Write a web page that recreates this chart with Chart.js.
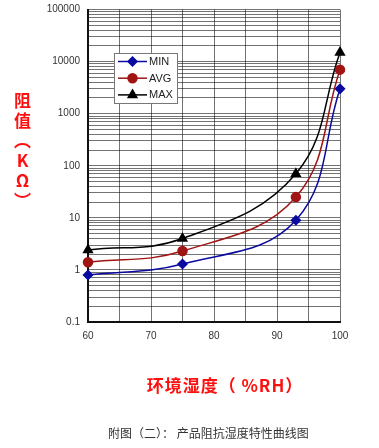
<!DOCTYPE html>
<html><head><meta charset="utf-8">
<script src="https://cdn.jsdelivr.net/npm/chart.js@4/dist/chart.umd.min.js"></script>
<style>
html,body{margin:0;padding:0;background:#fff;}
#wrap{position:relative;width:379px;height:448px;overflow:hidden;}
#c{position:absolute;left:0;top:0;}
#ytitle{position:absolute;left:12px;top:92px;writing-mode:vertical-rl;text-orientation:upright;color:#ff1010;font-family:"Noto Sans CJK SC";font-weight:bold;font-size:17px;line-height:20px;letter-spacing:3px;}
#xtitle{position:absolute;left:4px;width:442px;top:372px;text-align:center;color:#ff1010;font-family:"Noto Sans CJK SC";font-weight:bold;font-size:17px;letter-spacing:1px;white-space:pre;}
#caption{position:absolute;left:108px;top:424px;color:#333;font-family:"Noto Sans CJK SC";font-size:12px;white-space:pre;}
</style></head>
<body>
<div id="wrap">
<canvas id="c" width="379" height="448"></canvas>
<div id="ytitle">阻值（KΩ）</div>
<div id="xtitle">环境湿度（ %RH）</div>
<div id="caption">附图（二）： 产品阻抗湿度特性曲线图</div>
</div>
<script>
const humidity = [60, 75, 93, 100];
const minValues = [0.8, 1.3, 9, 3000];
const avgValues = [1.4, 2.3, 25, 7000];
const maxValues = [2.4, 4, 70, 15000];
const seriesNames = ['MIN', 'AVG', 'MAX'];
const yTickLabels = [0.1, 1, 10, 100, 1000, 10000, 100000];
const xTickLabels = [60, 70, 80, 90, 100];

const toPts = vals => humidity.map((h, i) => ({x: h, y: vals[i]}));

const legendPlugin = {
  id: 'boxLegend',
  afterDraw(chart) {
    const ctx = chart.ctx;
    ctx.save();
    const bx = 114, by = 53, bw = 63, bh = 50;
    ctx.fillStyle = '#fff';
    ctx.fillRect(bx, by, bw, bh);
    ctx.strokeStyle = '#777';
    ctx.lineWidth = 1;
    ctx.strokeRect(bx + 0.5, by + 0.5, bw, bh);
    chart.data.datasets.forEach((ds, i) => {
      const y = 61.5 + i * 16.7;
      ctx.strokeStyle = ds.borderColor;
      ctx.lineWidth = 1.5;
      ctx.beginPath();
      ctx.moveTo(118, y);
      ctx.lineTo(147, y);
      ctx.stroke();
      ctx.fillStyle = ds.backgroundColor;
      ctx.strokeStyle = ds.borderColor;
      Chart.helpers.drawPoint(ctx, {pointStyle: ds.pointStyle, radius: ds.pointRadius, rotation: 0, borderWidth: 1}, 132.5, y);
      ctx.fillStyle = '#222';
      ctx.font = '11px "Liberation Sans", Arial';
      ctx.textBaseline = 'middle';
      ctx.textAlign = 'left';
      ctx.fillText(ds.label, 149, y + 0.5);
    });
    ctx.restore();
  }
};

const mk = (label, vals, color, style, r) => ({
  label, data: toPts(vals), borderColor: color, backgroundColor: color,
  pointStyle: style, pointRadius: r, pointHoverRadius: r, borderWidth: 1.5,
  tension: 0.4, fill: false, clip: false
});

new Chart(document.getElementById('c'), {
  type: 'line',
  data: {
    datasets: [
      mk(seriesNames[0], minValues, '#0a0aa0', 'rectRot', 4.5),
      mk(seriesNames[1], avgValues, '#a01414', 'circle', 4.5),
      mk(seriesNames[2], maxValues, '#000000', 'triangle', 5)
    ]
  },
  options: {
    responsive: false,
    animation: false,
    devicePixelRatio: 1,
    layout: {padding: {left: 0, right: 39, top: 9.5, bottom: 96}},
    plugins: {legend: {display: false}, tooltip: {enabled: false}},
    scales: {
      x: {
        type: 'linear', min: 60, max: 100,
        afterBuildTicks: s => { const t = []; for (let v = 60; v <= 100; v += 5) t.push({value: v}); s.ticks = t; },
        afterFit: s => { s.height = 30; s.paddingLeft = 0; s.paddingRight = 0; },
        ticks: {
          padding: 8, color: '#333', font: {family: '"Liberation Sans", Arial', size: 10},
          callback: v => xTickLabels.includes(v) ? String(v) : ''
        },
        grid: {color: 'rgba(0,0,0,0.55)', lineWidth: 1, drawTicks: false},
        border: {color: '#111', width: 2}
      },
      y: {
        type: 'logarithmic', min: 0.1, max: 100000,
        afterBuildTicks: s => {
          const t = [];
          for (let e = -1; e < 5; e++) for (let m = 1; m < 10; m++) t.push({value: +(m * Math.pow(10, e)).toPrecision(3)});
          t.push({value: 100000});
          s.ticks = t;
        },
        afterFit: s => { s.width = 88; s.paddingTop = 0; s.paddingBottom = 0; },
        ticks: {
          padding: 8, color: '#333', font: {family: '"Liberation Sans", Arial', size: 10},
          autoSkip: false,
          callback: v => yTickLabels.includes(v) ? String(v) : ''
        },
        grid: {color: 'rgba(0,0,0,0.55)', lineWidth: 1, drawTicks: false},
        border: {color: '#111', width: 2}
      }
    }
  },
  plugins: [legendPlugin]
});
</script>
</body></html>
